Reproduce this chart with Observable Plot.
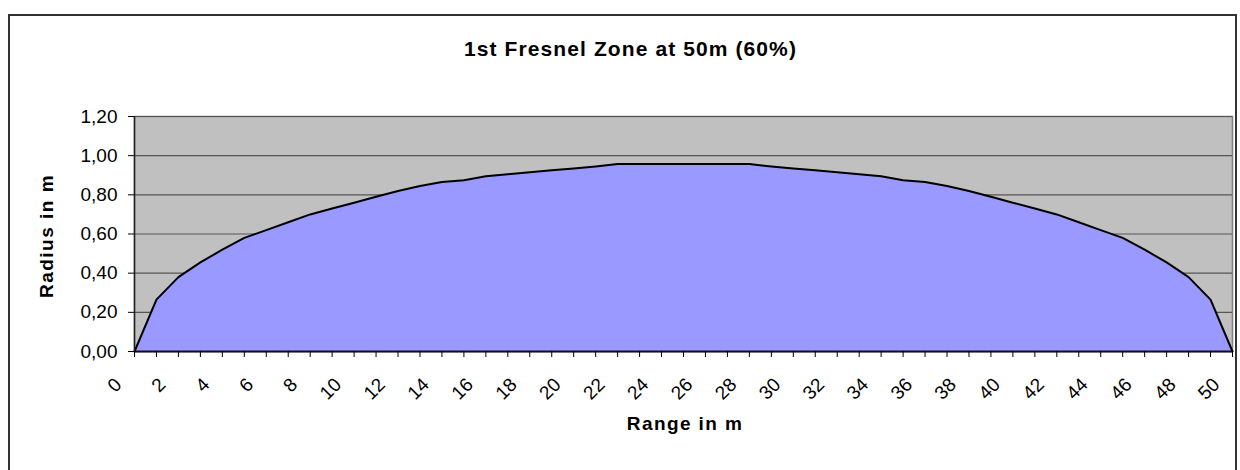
<!DOCTYPE html>
<html>
<head>
<meta charset="utf-8">
<script src="https://cdn.jsdelivr.net/npm/d3@7"></script>
<script src="https://cdn.jsdelivr.net/npm/@observablehq/plot@0.6"></script>
<style>
  html, body { margin: 0; padding: 0; background: #fff; }
  #wrap { position: relative; width: 1240px; height: 470px; overflow: hidden; font-family: "Liberation Sans", Arial, sans-serif; color: #000; }
  #frame { position: absolute; left: 8px; top: 14px; width: 1229px; height: 480px; border: 2px solid #333; box-sizing: border-box; }
  #chart { position: absolute; left: 0; top: 0; }
  .title { position: absolute; left: 16px; width: 1229px; top: 37px; text-align: center; font-weight: bold; font-size: 21px; letter-spacing: 1.1px; }
  .xtitle { position: absolute; left: 136px; width: 1098px; top: 413px; text-align: center; font-weight: bold; font-size: 19px; letter-spacing: 1.4px; }
  .ytitle { position: absolute; left: 47px; top: 236px; transform: translate(-50%, -50%) rotate(-90deg); white-space: nowrap; font-weight: bold; font-size: 19px; letter-spacing: 1.5px; }
</style>
</head>
<body>
<div id="wrap">
  <div id="frame"></div>
  <div id="chart"></div>
  <div class="title">1st Fresnel Zone at 50m (60%)</div>
  <div class="xtitle">Range in m</div>
  <div class="ytitle">Radius in m</div>
</div>
<script>
// Range along the link (m)
const rangeM = [0,1,2,3,4,5,6,7,8,9,10,11,12,13,14,15,16,17,18,19,20,21,22,23,24,25,26,27,28,29,30,31,32,33,34,35,36,37,38,39,40,41,42,43,44,45,46,47,48,49,50];
// Radius of 60% of 1st Fresnel zone (m)
const radiusM = [0,0.265,0.38,0.455,0.52,0.58,0.62,0.66,0.70,0.73,0.76,0.79,0.82,0.845,0.865,0.875,0.895,0.905,0.915,0.925,0.935,0.945,0.957,0.957,0.957,0.957,0.957,0.957,0.957,0.945,0.935,0.925,0.915,0.905,0.895,0.875,0.865,0.845,0.82,0.79,0.76,0.73,0.70,0.66,0.62,0.58,0.52,0.455,0.38,0.265,0];
// Axis ticks
const yTicks = [0,0.2,0.4,0.6,0.8,1.0,1.2];
const xTickMarks = rangeM;
const xTickLabels = [0,2,4,6,8,10,12,14,16,18,20,22,24,26,28,30,32,34,36,38,40,42,44,46,48,50];

const data = rangeM.map((x, i) => ({x, r: radiusM[i]}));
const comma = d => d.toFixed(2).replace(".", ",");

const chart = Plot.plot({
  width: 1240,
  height: 470,
  marginLeft: 134,
  marginRight: 8,
  marginTop: 116,
  marginBottom: 119,
  style: {fontFamily: "'Liberation Sans', Arial, sans-serif", fontSize: "19px", color: "#000", background: "transparent", overflow: "visible"},
  x: {domain: [0, 50]},
  y: {domain: [0, 1.2]},
  marks: [
    Plot.frame({fill: "#C0C0C0", stroke: "#808080", strokeWidth: 1.5}),
    Plot.ruleY(yTicks.filter(d => d > 0), {stroke: "#555", strokeWidth: 1.2}),
    Plot.areaY(data, {x: "x", y: "r", fill: "#9999FF"}),
    Plot.lineY(data, {x: "x", y: "r", stroke: "#000", strokeWidth: 2}),
    Plot.ruleX([0], {stroke: "#222", strokeWidth: 1.5}),
    Plot.ruleY([0], {stroke: "#111", strokeWidth: 2}),
    Plot.axisY({ticks: yTicks, tickSize: 6, tickPadding: 11, tickFormat: comma, label: null, fontSize: 19}),
    Plot.axisX({ticks: xTickMarks, tickSize: 6, tickFormat: () => "", label: null}),
    Plot.axisX({ticks: xTickLabels, tickSize: 0, tickRotate: -45, tickPadding: 22, dx: -16, dy: 8, label: null, fontSize: 19, tickFormat: d => String(d)})
  ]
});
document.getElementById("chart").appendChild(chart);
</script>
</body>
</html>
